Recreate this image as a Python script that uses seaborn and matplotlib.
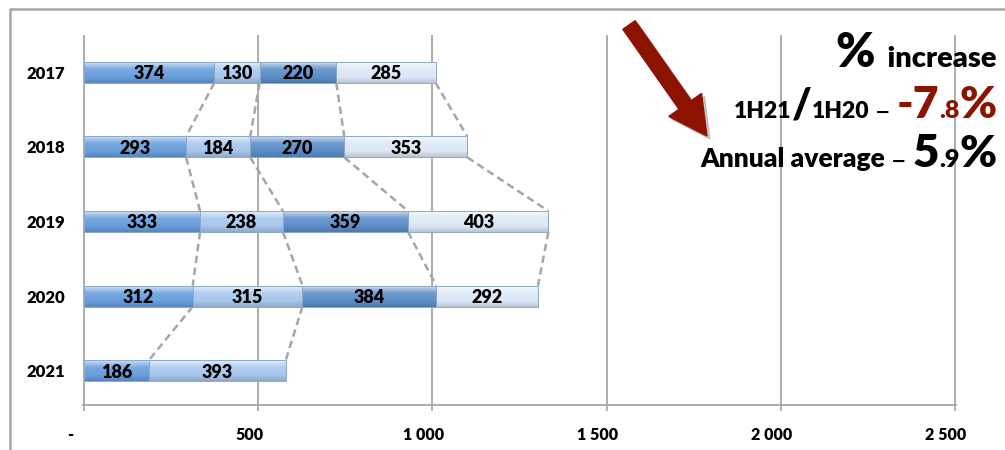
import numpy as np
import pandas as pd
import matplotlib
matplotlib.use("Agg")
import matplotlib.pyplot as plt
import seaborn as sns
from matplotlib.colors import to_rgb
from matplotlib.lines import Line2D
from matplotlib.patches import FancyArrow
from matplotlib.transforms import IdentityTransform, ScaledTranslation

# Quarterly volumes stacked per year
years = ["2017", "2018", "2019", "2020", "2021"]
q1 = [374, 293, 333, 312, 186]
q2 = [130, 184, 238, 315, 393]
q3 = [220, 270, 359, 384, np.nan]
q4 = [285, 353, 403, 292, np.nan]

x_ticks = [0, 500, 1000, 1500, 2000, 2500]
x_tick_labels = ["-", "500", "1 000", "1 500", "2 000", "2 500"]

seg_colors = ["#6a9fdc", "#a9c8ee", "#5e8fc9", "#dde8f7"]

sns.set_theme(style="white")
plt.rcParams["font.family"] = ["Lato", "DejaVu Sans"]
W = "heavy"

quarters = np.array([q1, q2, q3, q4], dtype=float)
ends = np.cumsum(quarters, axis=0)

fig = plt.figure(figsize=(10.05, 4.5), dpi=100)
ax = fig.add_axes([83 / 1005, 1 - 405 / 450, (956 - 83) / 1005, (405 - 35) / 450])

BAR_H = 0.28


def shade(c, amt):
    c = np.array(to_rgb(c))
    if amt >= 0:
        return c + (1 - c) * amt
    return c * (1 + amt)


def gradient(c):
    stops = np.array([0.0, 0.12, 0.35, 0.7, 1.0])
    cols = np.array([shade(c, 0.7), shade(c, 0.45), shade(c, 0.1), shade(c, 0.0), shade(c, -0.15)])
    t = np.linspace(0, 1, 40)
    arr = np.stack([np.interp(t, stops, cols[:, i]) for i in range(3)], axis=-1)
    return arr[:, None, :]


# Draw longest (cumulative) layer first so shorter ones sit on top
for k in range(3, -1, -1):
    df = pd.DataFrame({"year": years, "end": ends[k]}).dropna()
    n_before = len(ax.patches)
    sns.barplot(data=df, x="end", y="year", order=years, orient="h",
                color=seg_colors[k], saturation=1, width=BAR_H, ax=ax)
    z = 2 + (3 - k) * 0.1
    for p in ax.patches[n_before:]:
        x0, y0, w, h = p.get_x(), p.get_y(), p.get_width(), p.get_height()
        if not np.isfinite(w) or w == 0:
            continue
        im = ax.imshow(gradient(seg_colors[k]), extent=(x0, x0 + w, y0 + h, y0),
                       origin="upper", aspect="auto", interpolation="bilinear", zorder=z)
        im.set_clip_path(p)
        p.set_facecolor("none")
        p.set_edgecolor("#8ea9c9")
        p.set_linewidth(0.7)
        p.set_zorder(z + 0.05)

# Value labels centred in each segment
for i in range(len(years)):
    start = 0
    for k in range(4):
        v = quarters[k, i]
        if np.isnan(v):
            continue
        ax.text(start + v / 2, i + 0.02, f"{int(v)}", ha="center", va="center",
                fontsize=13, fontweight=W, color="black", zorder=6)
        start += v

# Dashed connectors between matching segment ends of consecutive years
for i in range(len(years) - 1):
    for k in range(4):
        a, b = ends[k, i], ends[k, i + 1]
        if np.isnan(a) or np.isnan(b):
            continue
        ax.plot([a, b], [i + BAR_H / 2, i + 1 - BAR_H / 2], color="#a6a6a6",
                lw=1.8, dashes=(3, 1.8), zorder=1.5, solid_capstyle="butt")

ax.set_xlim(-3, 2503)
ax.set_ylim(4.46, -0.5)
ax.set_xticks(x_ticks)
ax.set_xticklabels(x_tick_labels)
ax.set_xlabel("")
ax.set_ylabel("")
ax.grid(axis="x", color="#a6a6a6", lw=1.3)
ax.grid(axis="y", visible=False)
ax.set_axisbelow(True)
for s in ["top", "right", "left"]:
    ax.spines[s].set_visible(False)
ax.spines["bottom"].set_color("#a6a6a6")
ax.spines["bottom"].set_linewidth(1.3)
ax.tick_params(axis="x", direction="out", length=4, width=1.2, color="#a6a6a6",
               pad=12, labelsize=11.5, bottom=True)
ax.tick_params(axis="y", length=0, pad=13, labelsize=12)
for lab in ax.get_xticklabels() + ax.get_yticklabels():
    lab.set_fontweight(W)
    lab.set_color("black")
# accounting-style number format leaves trailing padding, nudging labels left
for j, lab in enumerate(ax.get_xticklabels()):
    dx = -14 if j == 0 else -9
    lab.set_transform(lab.get_transform() + ScaledTranslation(dx / 100, 0, fig.dpi_scale_trans))

# Frame around the figure (top and left edges)
fig.add_artist(Line2D([10, 10, 1010], [-5, 441, 441], transform=IdentityTransform(),
                      color="#a6a6a6", lw=1.8))

# Arrow pointing at the growth figures
arrow_kw = dict(width=15, head_width=40, head_length=38, length_includes_head=True,
                transform=IdentityTransform())
shadow = FancyArrow(632, 450 - 28, 78, -111, color="#000000", alpha=0.18, **arrow_kw)
fig.add_artist(shadow)
arrow = FancyArrow(629, 450 - 25, 78, -111, color="#8b1300", **arrow_kw)
fig.add_artist(arrow)

# Growth summary, built right to left along shared baselines
RED = "#8b1300"
DASH = (" − ", 13, "black", "bold", "DejaVu Sans")
lines = [
    (67, [("%", 34, "black", W, None), ("  increase", 21, "black", W, None)]),
    (118, [("1H21", 16.5, "black", W, None), ("/", 30, "black", W, None),
           ("1H20", 16.5, "black", W, None), DASH,
           ("-7", 32, RED, W, None), (".8", 18, RED, W, None), ("%", 32, RED, W, None)]),
    (167, [("Annual average", 19, "black", W, None), DASH,
           ("5", 33, "black", W, None), (".9", 18, "black", W, None), ("%", 32, "black", W, None)]),
]
fig.canvas.draw()
renderer = fig.canvas.get_renderer()
for base_y, pieces in lines:
    x = 997
    for txt, size, col, wt, fam in reversed(pieces):
        kw = {"family": fam} if fam else {}
        t = fig.text(x, 450 - base_y, txt, transform=IdentityTransform(), ha="right",
                     va="baseline", fontsize=size, color=col, fontweight=wt, **kw)
        bb = t.get_window_extent(renderer)
        x -= bb.width

fig.savefig("out.png", dpi=100)
